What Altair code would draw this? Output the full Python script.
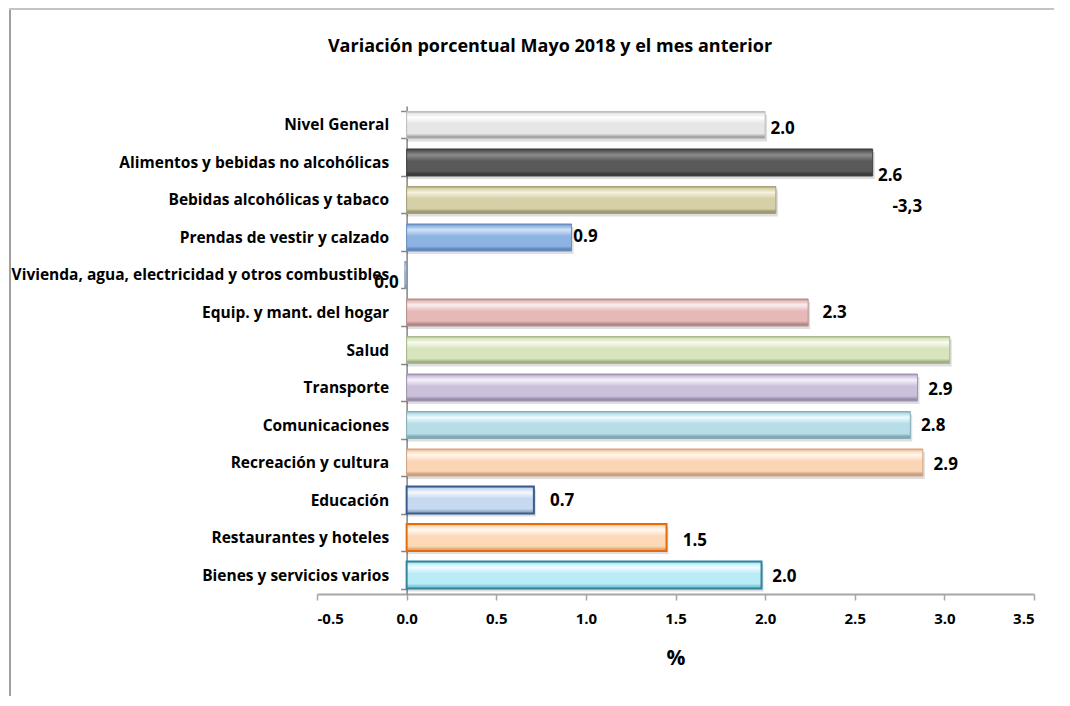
import altair as alt
import pandas as pd

categories = [
    "Nivel General",
    "Alimentos y bebidas no alcohólicas",
    "Bebidas alcohólicas y tabaco",
    "Prendas de vestir y calzado",
    "Vivienda, agua, electricidad y otros combustibles",
    "Equip. y mant. del hogar",
    "Salud",
    "Transporte",
    "Comunicaciones",
    "Recreación y cultura",
    "Educación",
    "Restaurantes y hoteles",
    "Bienes y servicios varios",
]
values = [2.0, 2.6, 2.06, 0.92, -0.01, 2.24, 3.03, 2.85, 2.81, 2.88, 0.71, 1.45, 1.98]
labels = ["2.0", "2.6", "-3,3", "0.9", "0.0", "2.3", "", "2.9", "2.8", "2.9", "0.7", "1.5", "2.0"]
label_at = [2.03, 2.63, 2.71, 0.93, -0.18, 2.32, 0.0, 2.91, 2.87, 2.94, 0.80, 1.54, 2.04]
x_ticks = [-0.5, 0, 0.5, 1, 1.5, 2, 2.5, 3, 3.5]

# styles (light, mid, dark, stroke, stroke width)
styles = [
    ("#ffffff", "#e6e6e6", "#a6a6a6", "#bfbfbf", 1),
    ("#8c8c8c", "#595959", "#3a3a3a", "#404040", 1),
    ("#f4f2dc", "#d6d0a8", "#9e9772", "#a8a07a", 1),
    ("#d2e3f8", "#8db3e2", "#5f86bb", "#6a8fc0", 1),
    ("#dfe6ee", "#a9b7c8", "#7d8da0", "#8a9ab0", 1),
    ("#fbeeee", "#e6b9b8", "#b08887", "#b89190", 1),
    ("#f8fbef", "#d7e4bd", "#9fb085", "#a9b98e", 1),
    ("#f6f2fb", "#ccc1da", "#968aa8", "#a094b2", 1),
    ("#eefafd", "#b7dee8", "#80a9b4", "#86aeb9", 1),
    ("#fff7ee", "#fcd5b5", "#c99f7e", "#cfa585", 1),
    ("#f4f8fd", "#c6d9f1", "#94add0", "#385d8a", 2),
    ("#fffaf4", "#fdd9b8", "#e8a46e", "#e46c0a", 2),
    ("#f2fdff", "#b9ecf7", "#7ec6d8", "#31849b", 2),
]
label_dy = [4, 14, 7, 0, 8, 1, 0, 2, 1, 2, 1, 3, 2]

df = pd.DataFrame({"cat": categories, "val": values, "lab": labels, "lx": label_at})

W, H = 717, 488
FONT = "Open Sans"
xdom = [-0.5, 3.5]

xscale = alt.Scale(domain=xdom, nice=False, zero=False)
yscale = alt.Scale(domain=categories, paddingInner=0.28, paddingOuter=0.146)

def grad(light, mid, dark):
    return {
        "gradient": "linear", "x1": 0, "y1": 0, "x2": 0, "y2": 1,
        "stops": [
            {"offset": 0.0, "color": dark},
            {"offset": 0.07, "color": mid},
            {"offset": 0.22, "color": light},
            {"offset": 0.45, "color": mid},
            {"offset": 0.82, "color": mid},
            {"offset": 0.93, "color": dark},
            {"offset": 1.0, "color": dark},
        ],
    }

base = alt.Chart(df)

axis_layer = base.mark_bar(opacity=0).encode(
    x=alt.X("val:Q", scale=xscale, title="%",
            axis=alt.Axis(values=x_ticks,
                          labelExpr="datum.value < 0 ? '-' + format(-datum.value, '.1f') : format(datum.value, '.1f')",
                          grid=False, domainColor="#a6a6a6", domainWidth=2,
                          tickColor="#a6a6a6", tickWidth=1.5, tickSize=6,
                          labelFont=FONT, labelFontSize=15, labelFontWeight="bold",
                          labelColor="#000000", labelPadding=11,
                          titleFont=FONT, titleFontSize=21, titleFontWeight="bold",
                          titleColor="#000000", titlePadding=21)),
    y=alt.Y("cat:N", scale=yscale, sort=categories, title=None,
            axis=alt.Axis(offset=-W * 0.5 / 4, tickBand="extent", grid=False,
                          domainColor="#868686", domainWidth=1.5,
                          tickColor="#868686", tickWidth=1.5, tickSize=6,
                          labelFont=FONT, labelFontSize=15.5, labelFontWeight="bold",
                          labelColor="#000000", labelPadding=12, labelLimit=0)),
)

layers = [axis_layer]

shadow = base.mark_bar(fill="#000000", opacity=0.13, xOffset=2, yOffset=3).encode(
    x=alt.X("val:Q", scale=xscale),
    x2=alt.datum(0),
    y=alt.Y("cat:N", scale=yscale, sort=categories),
)
layers.append(shadow)

for i, c in enumerate(categories):
    light, mid, dark, stroke, sw = styles[i]
    bar = base.transform_filter(alt.datum.cat == c).mark_bar(
        fill=grad(light, mid, dark), stroke=stroke, strokeWidth=sw,
    ).encode(
        x=alt.X("val:Q", scale=xscale),
        x2=alt.datum(0),
        y=alt.Y("cat:N", scale=yscale, sort=categories),
    )
    layers.append(bar)

for i, c in enumerate(categories):
    if not labels[i]:
        continue
    t = base.transform_filter(alt.datum.cat == c).mark_text(
        align="left", baseline="middle", font=FONT, fontSize=17, fontWeight="bold",
        color="#000000", dy=label_dy[i],
    ).encode(
        x=alt.X("lx:Q", scale=xscale),
        y=alt.Y("cat:N", scale=yscale, sort=categories),
        text="lab:N",
    )
    layers.append(t)

title = alt.Chart(pd.DataFrame({"t": ["Variación porcentual  Mayo 2018 y el mes anterior"]})).mark_text(
    font=FONT, fontSize=18, fontWeight="bold", color="#000000", align="center", baseline="middle"
).encode(x=alt.value(233), y=alt.value(-59), text="t:N")

frame_left = alt.Chart(pd.DataFrame({"a": [0]})).mark_rule(color="#a0a0a0", strokeWidth=2).encode(
    x=alt.value(-307), y=alt.value(-97), y2=alt.value(600))
frame_top = alt.Chart(pd.DataFrame({"a": [0]})).mark_rule(color="#c4c4c4", strokeWidth=2).encode(
    x=alt.value(-308), x2=alt.value(740), y=alt.value(-97))

chart = alt.layer(frame_left, frame_top, title, *layers).properties(
    width=W, height=H,
    autosize=alt.AutoSizeParams(type="none"),
    padding={"left": 309, "top": 98, "right": 20, "bottom": 102},
    background="#ffffff",
).configure_view(stroke=None, strokeWidth=0)

chart.save("out.html", embed_options={"renderer": "svg", "actions": False})
